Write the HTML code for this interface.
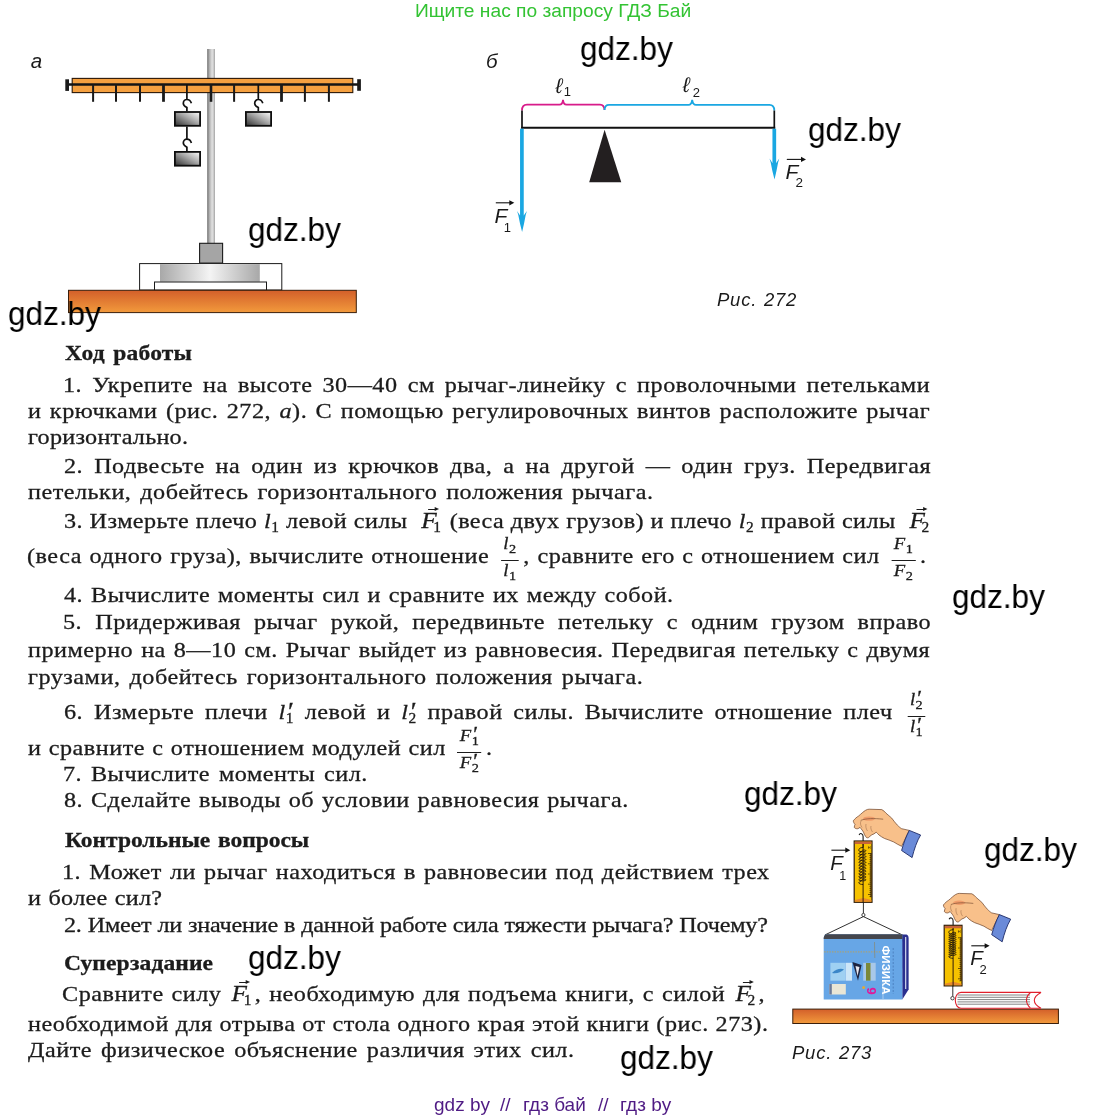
<!DOCTYPE html>
<html><head><meta charset="utf-8"><title>page</title><style>
*{margin:0;padding:0}
html,body{width:1107px;height:1120px;background:#fff;overflow:hidden}
#pg{position:relative;width:1107px;height:1120px;background:#fff}
svg.fig{position:absolute;left:0;top:0;will-change:transform}
.ln{position:absolute;will-change:transform;-webkit-text-stroke:0.3px #1c1c1c;font-family:"Liberation Serif",serif;font-size:22px;line-height:24px;height:24px;color:#1c1c1c;text-align:justify;text-align-last:justify;white-space:nowrap;transform-origin:0 0}
.ln.b{font-weight:bold}
.s{font-size:14px;position:relative;top:4px;font-style:normal}
.p{display:inline-block;width:0;line-height:10px;font-size:25px;font-style:normal;position:relative;left:2px;top:1px}
.vec{position:relative;line-height:10px;margin:0 1.5px 0 6.5px}
.vec i{font-size:23px;line-height:10px}
.vec.vb{margin:0 2.5px 0 2px}
.vec .s{margin-left:-3.5px}
.vec::before{content:"";position:absolute;left:6.5px;top:1px;width:8px;height:1.1px;background:#1c1c1c}
.vec::after{content:"";position:absolute;left:12.5px;top:-1.1px;border-left:4px solid #1c1c1c;border-top:2.6px solid transparent;border-bottom:2.6px solid transparent}
.fr{display:inline-block;vertical-align:-13.3px;text-align:center;font-size:17px;line-height:19px;margin:-16px 4px}
.fr .nu{display:block;border-bottom:1px solid #1c1c1c;padding:0 2px 5.75px 2px;text-align-last:center}
.fr .de{display:block;padding-top:0.55px;text-align-last:center}
.fr .s{font-size:13px;top:4px}
.fr .p{font-size:20px;left:1.5px;top:0px}
.wm{position:absolute;will-change:transform;transform:scaleX(0.955);transform-origin:0 0;font-family:"Liberation Sans",sans-serif;font-size:33px;line-height:40px;color:#000;white-space:nowrap}
#top{position:absolute;will-change:transform;left:415px;top:-0.5px;white-space:nowrap;font-family:"Liberation Sans",sans-serif;font-size:19.2px;line-height:22px;color:#33c333}
.ft{position:absolute;will-change:transform;top:1094px;font-family:"Liberation Sans",sans-serif;font-size:19px;line-height:22px;color:#4f1b84;white-space:pre}
svg text.it{font-family:"Liberation Sans",sans-serif;font-style:italic;fill:#1a1a1a}
svg text.sf{font-family:"Liberation Sans",sans-serif;fill:#1a1a1a}
</style></head>
<body><div id="pg">
<div id="top">Ищите нас по запросу ГДЗ Бай</div>
<svg class="fig" width="1107" height="1120" viewBox="0 0 1107 1120"><defs>
<linearGradient id="gPole" x1="0" x2="1" y1="0" y2="0">
 <stop offset="0" stop-color="#6e6e6e"/><stop offset="0.3" stop-color="#b0b0b0"/><stop offset="0.65" stop-color="#e2e2e2"/><stop offset="0.85" stop-color="#c8c8c8"/><stop offset="1" stop-color="#8e8e8e"/>
</linearGradient>
<linearGradient id="gW" x1="0" y1="1" x2="1" y2="0">
 <stop offset="0" stop-color="#2e2e2e"/><stop offset="0.55" stop-color="#a8a8a8"/><stop offset="1" stop-color="#ffffff"/>
</linearGradient>
<linearGradient id="gDisc" x1="0" x2="1" y1="0" y2="0">
 <stop offset="0" stop-color="#a8a8a8"/><stop offset="0.5" stop-color="#f4f4f4"/><stop offset="1" stop-color="#a8a8a8"/>
</linearGradient>
<linearGradient id="gTable" x1="0" x2="0" y1="0" y2="1">
 <stop offset="0" stop-color="#d35f2a"/><stop offset="1" stop-color="#f29a3c"/>
</linearGradient>
</defs><rect x="207.2" y="49" width="7.6" height="195" fill="url(#gPole)"/>
<rect x="72.2" y="78.4" width="280.6" height="14.2" fill="#f5a040" stroke="#2b1808" stroke-width="1.1"/>
<line x1="67" y1="84.5" x2="359" y2="84.5" stroke="#141414" stroke-width="2.3"/>
<rect x="65.3" y="79.3" width="3.7" height="11.6" fill="#1a1a1a"/>
<rect x="357.2" y="79.2" width="3.7" height="11.6" fill="#1a1a1a"/>
<line x1="93.1" y1="84.5" x2="93.1" y2="101.8" stroke="#1a1a1a" stroke-width="2.0"/>
<line x1="116" y1="84.5" x2="116" y2="101.8" stroke="#1a1a1a" stroke-width="2.0"/>
<line x1="140" y1="84.5" x2="140" y2="101.8" stroke="#1a1a1a" stroke-width="2.0"/>
<line x1="163.5" y1="84.5" x2="163.5" y2="101.8" stroke="#1a1a1a" stroke-width="2.8"/>
<line x1="211" y1="84.5" x2="211" y2="101.8" stroke="#1a1a1a" stroke-width="2.6"/>
<line x1="234.1" y1="84.5" x2="234.1" y2="101.8" stroke="#1a1a1a" stroke-width="2.0"/>
<line x1="281.5" y1="84.5" x2="281.5" y2="101.8" stroke="#1a1a1a" stroke-width="2.8"/>
<line x1="304.9" y1="84.5" x2="304.9" y2="101.8" stroke="#1a1a1a" stroke-width="2.0"/>
<line x1="328.9" y1="84.5" x2="328.9" y2="101.8" stroke="#1a1a1a" stroke-width="2.0"/>
<path d="M186.9,84.5 L186.9,99.5 M191.4,103.3 C190.5,100.5 188.8,99.5 186.9,99.5 C184.8,99.5 183.3,101.3 183.3,103.4 C183.3,105.5 185.0,106.5 186.9,107.5 L186.9,111.3" fill="none" stroke="#111" stroke-width="1.7"/>
<path d="M186.9,126.5 L186.9,139.2 M191.4,143.0 C190.5,140.2 188.8,139.2 186.9,139.2 C184.8,139.2 183.3,141.0 183.3,143.1 C183.3,145.2 185.0,146.2 186.9,147.2 L186.9,151.2" fill="none" stroke="#111" stroke-width="1.7"/>
<path d="M258.3,84.5 L258.3,99.5 M262.8,103.3 C261.90000000000003,100.5 260.2,99.5 258.3,99.5 C256.2,99.5 254.70000000000002,101.3 254.70000000000002,103.4 C254.70000000000002,105.5 256.40000000000003,106.5 258.3,107.5 L258.3,111.3" fill="none" stroke="#111" stroke-width="1.7"/>
<rect x="174.9" y="112.0" width="25.2" height="13.8" fill="url(#gW)" stroke="#0d0d0d" stroke-width="1.8"/>
<rect x="174.9" y="151.9" width="25.2" height="13.8" fill="url(#gW)" stroke="#0d0d0d" stroke-width="1.8"/>
<rect x="245.9" y="112.0" width="25.2" height="13.8" fill="url(#gW)" stroke="#0d0d0d" stroke-width="1.8"/>
<rect x="199.6" y="243.3" width="23" height="19.8" fill="#a5a5a5" stroke="#1a1a1a" stroke-width="1.1"/>
<rect x="139.6" y="263.6" width="142.2" height="26.4" fill="#fff" stroke="#1a1a1a" stroke-width="1"/>
<rect x="160" y="264.1" width="99.8" height="17.6" fill="url(#gDisc)"/>
<rect x="154.5" y="282" width="112" height="8" fill="#fff" stroke="#1a1a1a" stroke-width="1"/>
<rect x="68.5" y="290.3" width="287.8" height="22.3" fill="url(#gTable)" stroke="#3a1e0a" stroke-width="1"/>
<path d="M522,110.5 C522,106.5 523.5,104.6 527,104.6 L559.5,104.6 C561.8,104.6 562.7,103 563,99.8 C563.3,103 564.2,104.6 566.5,104.6 L600,104.6 C603,104.6 604.3,106.5 604.5,110" fill="none" stroke="#d81b8a" stroke-width="1.8"/>
<path d="M604.5,110 C604.7,106.5 606,104.9 609,104.9 L688.5,104.9 C690.8,104.9 691.8,103.2 692.2,99.9 C692.6,103.2 693.6,104.9 696,104.9 L769.5,104.9 C772.8,104.9 774.3,106.7 774.3,110.5" fill="none" stroke="#1aa7e2" stroke-width="1.8"/>
<line x1="521.2" y1="127.8" x2="775.2" y2="127.8" stroke="#111" stroke-width="1.9"/>
<line x1="522" y1="110.5" x2="522" y2="128.5" stroke="#111" stroke-width="1.7"/>
<line x1="774.3" y1="110.5" x2="774.3" y2="128.5" stroke="#111" stroke-width="1.7"/>
<path d="M604.6,129.8 L621.3,182.2 L589.2,182.2 Z" fill="#231f20"/>
<line x1="521.9" y1="128.7" x2="521.9" y2="217" stroke="#1aa7e2" stroke-width="3.7"/><path d="M517.1,211 L518.3,215 Q519.9,224 522.1,232 Q524.1,224 525.6999999999999,215 L526.9,211 L523.75,215.5 L520.05,215.5 Z" fill="#1aa7e2"/>
<line x1="774.3" y1="128.7" x2="774.3" y2="164.5" stroke="#1aa7e2" stroke-width="3.7"/><path d="M769.5,158.5 L770.6999999999999,162.5 Q772.3,171.5 774.5,179.5 Q776.5,171.5 778.0999999999999,162.5 L779.3,158.5 L776.15,163.0 L772.4499999999999,163.0 Z" fill="#1aa7e2"/>
<text x="486" y="67.6" class="it" font-size="20.5">б</text>
<text x="555.5" y="92.5" class="it" font-size="21">ℓ</text><text x="563.8" y="96.3" class="sf" font-size="13">1</text>
<text x="682.8" y="91.8" class="it" font-size="21">ℓ</text><text x="692.8" y="96.8" class="sf" font-size="13">2</text>
<line x1="495.8" y1="202.8" x2="511.29999999999995" y2="202.8" stroke="#111" stroke-width="1.1"/><path d="M509.29999999999995,200.20000000000002 L514.3,202.8 L509.29999999999995,205.4 Z" fill="#111"/>
<text x="494.5" y="223" class="it" font-size="21">F</text><text x="503.8" y="232.2" class="sf" font-size="13">1</text>
<line x1="786.8" y1="159.4" x2="803" y2="159.4" stroke="#111" stroke-width="1.1"/><path d="M801,156.8 L806,159.4 L801,162.0 Z" fill="#111"/>
<text x="785.5" y="178.7" class="it" font-size="21">F</text><text x="795.6" y="187" class="sf" font-size="13.5">2</text>
<text y="306" class="it" font-size="18.5" letter-spacing="0.75"><tspan x="717">Рис.</tspan><tspan x="764">272</tspan></text>
<rect x="792.8" y="1009.1" width="265.6" height="14.4" fill="url(#gTable)" stroke="#3a1e0a" stroke-width="1"/>
<g transform="translate(0,0)">
<path d="M853.3,820.8 C855,818.5 857,817 858.6,816 C861,814 863.5,811.5 865.6,810.3 C867,809.5 868,809.2 869.1,809.2 L881.8,809.6 C883.5,810.5 885,811.8 886,813.2 C888,815 890,816.5 891.7,818.1 C893.5,820.5 895.5,823.2 897.3,825.1 C899,826.8 900.5,828 901.6,828.7 L909.3,830.4 L901.6,846.3 C898.5,845 896,843.3 893.8,842 C890.5,840.5 887.5,839.5 884.6,838.5 C882.5,837.5 880.5,836.2 879,835 C878,834 877,833 876.2,832.2 C875,833.5 873,834.5 871.3,835 C870,836.3 869,837.8 867.7,837.8 C866.5,837.8 865.8,837 865.6,836.4 C864.5,835 864,833.5 863.5,832.2 C863,831.3 862.5,830.6 862.1,830 C861.3,829 860.5,828 860,827.3 C858.8,828.5 857.5,829 856.5,828.7 C855.3,828.5 854.5,828 854.3,827.3 C854.3,826.3 854.6,825.2 855,824.4 C854,823.3 853.3,822 853.3,820.8 Z" fill="#f8c08a" stroke="#6a4028" stroke-width="0.7"/>
<ellipse cx="869" cy="818.6" rx="6" ry="2.2" fill="#ee9060" opacity="0.75"/>
<path d="M860.7,820.4 C866,818.3 874,818.2 883.2,819.2" fill="none" stroke="#6a4028" stroke-width="0.6"/>
<path d="M861,821 C860,823 860.5,825.5 862.1,827.5 M866,824 C865.5,826.5 866,829 867.5,831 M871,826 C870.5,828 871,830 872.5,832" fill="none" stroke="#6a4028" stroke-width="0.5" opacity="0.7"/>
<path d="M909.3,830.4 L920.6,835 C917,841 914.2,849 912.1,857.6 L901.6,850.5 C903.5,843.5 906,836.5 909.3,830.4 Z" fill="#6a8ad8" stroke="#1d2a66" stroke-width="0.9"/>
</g>
<rect x="854.2" y="841" width="17.8" height="61.3" fill="#f6c200" stroke="#2e1c0c" stroke-width="1.2"/>
<rect x="854.8000000000001" y="841.6" width="16.6" height="2.4" fill="#c8643a"/>
<path d="M854.8000000000001,901.6999999999999 L854.8000000000001,900.0999999999999 L863.1,898.0999999999999 L871.4,900.0999999999999 L871.4,901.6999999999999 Z" fill="#e88a2a"/>
<line x1="863.1" y1="844" x2="863.1" y2="902.8" stroke="#2e1c0c" stroke-width="1"/>
<path d="M863.1,844 L863.1,847.5 C859.6,847.5 858.8000000000001,849.0 858.8000000000001,850.5 C858.8000000000001,852.1 865.9,852.1 865.9,850.8 C865.9,849.6 861.6,849.8 861.6,851.3 C861.6,852.7 858.8000000000001,852.7 858.8000000000001,853.4090909090909 C858.8000000000001,855.0090909090909 865.9,855.0090909090909 865.9,853.7090909090908 C865.9,852.5090909090909 861.6,852.7090909090908 861.6,854.2090909090908 C861.6,855.6090909090909 858.8000000000001,855.6090909090909 858.8000000000001,856.3181818181818 C858.8000000000001,857.9181818181818 865.9,857.9181818181818 865.9,856.6181818181817 C865.9,855.4181818181818 861.6,855.6181818181817 861.6,857.1181818181817 C861.6,858.5181818181818 858.8000000000001,858.5181818181818 858.8000000000001,859.2272727272726 C858.8000000000001,860.8272727272727 865.9,860.8272727272727 865.9,859.5272727272726 C865.9,858.3272727272727 861.6,858.5272727272726 861.6,860.0272727272726 C861.6,861.4272727272727 858.8000000000001,861.4272727272727 858.8000000000001,862.1363636363635 C858.8000000000001,863.7363636363635 865.9,863.7363636363635 865.9,862.4363636363635 C865.9,861.2363636363635 861.6,861.4363636363635 861.6,862.9363636363635 C861.6,864.3363636363636 858.8000000000001,864.3363636363636 858.8000000000001,865.0454545454544 C858.8000000000001,866.6454545454544 865.9,866.6454545454544 865.9,865.3454545454543 C865.9,864.1454545454544 861.6,864.3454545454543 861.6,865.8454545454543 C861.6,867.2454545454544 858.8000000000001,867.2454545454544 858.8000000000001,867.9545454545453 C858.8000000000001,869.5545454545453 865.9,869.5545454545453 865.9,868.2545454545452 C865.9,867.0545454545453 861.6,867.2545454545452 861.6,868.7545454545452 C861.6,870.1545454545453 858.8000000000001,870.1545454545453 858.8000000000001,870.8636363636361 C858.8000000000001,872.4636363636362 865.9,872.4636363636362 865.9,871.1636363636361 C865.9,869.9636363636362 861.6,870.1636363636361 861.6,871.6636363636361 C861.6,873.0636363636362 858.8000000000001,873.0636363636362 858.8000000000001,873.772727272727 C858.8000000000001,875.372727272727 865.9,875.372727272727 865.9,874.072727272727 C865.9,872.872727272727 861.6,873.072727272727 861.6,874.572727272727 C861.6,875.9727272727271 858.8000000000001,875.9727272727271 858.8000000000001,876.6818181818179 C858.8000000000001,878.2818181818179 865.9,878.2818181818179 865.9,876.9818181818179 C865.9,875.7818181818179 861.6,875.9818181818179 861.6,877.4818181818179 C861.6,878.881818181818 858.8000000000001,878.881818181818 858.8000000000001,879.5909090909088 C858.8000000000001,881.1909090909088 865.9,881.1909090909088 865.9,879.8909090909087 C865.9,878.6909090909088 861.6,878.8909090909087 861.6,880.3909090909087 C861.6,881.7909090909088 858.8000000000001,881.7909090909088 858.8000000000001,882.4999999999997 C858.8000000000001,883.9999999999997 861.1,884.4999999999997 863.1,884.4999999999997" fill="none" stroke="#1e140a" stroke-width="0.9"/>
<line x1="871.0" y1="853" x2="871.0" y2="897.3" stroke="#2e1c0c" stroke-width="1.1"/>
<line x1="868.0" y1="853.5" x2="871.0" y2="853.5" stroke="#2e1c0c" stroke-width="0.7"/>
<line x1="869.5" y1="855.5" x2="871.0" y2="855.5" stroke="#2e1c0c" stroke-width="0.7"/>
<line x1="869.5" y1="857.6" x2="871.0" y2="857.6" stroke="#2e1c0c" stroke-width="0.7"/>
<line x1="869.5" y1="859.6" x2="871.0" y2="859.6" stroke="#2e1c0c" stroke-width="0.7"/>
<line x1="869.5" y1="861.7" x2="871.0" y2="861.7" stroke="#2e1c0c" stroke-width="0.7"/>
<line x1="868.0" y1="863.8" x2="871.0" y2="863.8" stroke="#2e1c0c" stroke-width="0.7"/>
<line x1="869.5" y1="865.8" x2="871.0" y2="865.8" stroke="#2e1c0c" stroke-width="0.7"/>
<line x1="869.5" y1="867.9" x2="871.0" y2="867.9" stroke="#2e1c0c" stroke-width="0.7"/>
<line x1="869.5" y1="869.9" x2="871.0" y2="869.9" stroke="#2e1c0c" stroke-width="0.7"/>
<line x1="869.5" y1="872.0" x2="871.0" y2="872.0" stroke="#2e1c0c" stroke-width="0.7"/>
<line x1="868.0" y1="874.0" x2="871.0" y2="874.0" stroke="#2e1c0c" stroke-width="0.7"/>
<line x1="869.5" y1="876.0" x2="871.0" y2="876.0" stroke="#2e1c0c" stroke-width="0.7"/>
<line x1="869.5" y1="878.1" x2="871.0" y2="878.1" stroke="#2e1c0c" stroke-width="0.7"/>
<line x1="869.5" y1="880.1" x2="871.0" y2="880.1" stroke="#2e1c0c" stroke-width="0.7"/>
<line x1="869.5" y1="882.2" x2="871.0" y2="882.2" stroke="#2e1c0c" stroke-width="0.7"/>
<line x1="868.0" y1="884.2" x2="871.0" y2="884.2" stroke="#2e1c0c" stroke-width="0.7"/>
<line x1="869.5" y1="886.3" x2="871.0" y2="886.3" stroke="#2e1c0c" stroke-width="0.7"/>
<line x1="869.5" y1="888.4" x2="871.0" y2="888.4" stroke="#2e1c0c" stroke-width="0.7"/>
<line x1="869.5" y1="890.4" x2="871.0" y2="890.4" stroke="#2e1c0c" stroke-width="0.7"/>
<line x1="869.5" y1="892.5" x2="871.0" y2="892.5" stroke="#2e1c0c" stroke-width="0.7"/>
<line x1="868.0" y1="894.5" x2="871.0" y2="894.5" stroke="#2e1c0c" stroke-width="0.7"/>
<line x1="869.5" y1="896.5" x2="871.0" y2="896.5" stroke="#2e1c0c" stroke-width="0.7"/>
<text x="867.8" y="849" font-family="Liberation Sans" font-size="4" fill="#2e1c0c">H</text>
<path d="M863.1,841 L863.1,836.5 C863.1,833.5 860.1,832.5 859.1,835" fill="none" stroke="#1a1a1a" stroke-width="1.1"/>
<line x1="863.4" y1="902" x2="863.4" y2="913.3" stroke="#1a1a1a" stroke-width="0.9"/>
<circle cx="863.4" cy="915" r="1.6" fill="#fff" stroke="#1a1a1a" stroke-width="0.8"/>
<path d="M824.8,935 L863.4,916.6 L902.5,935" fill="none" stroke="#1a1a1a" stroke-width="0.9"/>
<path d="M902,934.6 L906.5,934.6 C907.8,935.2 908.6,936.5 908.6,938 L908.6,989.5 L902.3,999.4 Z" fill="#2a2f8e"/>
<rect x="905" y="937" width="1.3" height="52" fill="#c6cce6"/>
<path d="M823.7,938 C823.7,935.8 825,934.3 827,934.3 L902.3,934.3 L902.3,999.4 L823.7,999.4 Z" fill="#67a6e6"/>
<path d="M823.7,938.8 C823.7,935.8 825,934.3 827,934.3 L902.3,934.3 L902.3,939.1 L823.7,939.1 Z" fill="#45464d"/>
<line x1="824.2" y1="951.8" x2="880" y2="951.8" stroke="#a8a27a" stroke-width="1.3" stroke-dasharray="1.4,1.2"/>
<path d="M874.5,942 L874.8,958" fill="none" stroke="#8a8468" stroke-width="0.8" opacity="0.8"/>
<rect x="830.4" y="962.8" width="14.6" height="17.9" fill="#9fd0f2"/>
<path d="M832,973 C836,969 841,968 844,969.5 C841,972 837,974 832,973 Z" fill="#3a86c8"/>
<rect x="845.5" y="962.8" width="6.5" height="17.9" fill="#cde6f8"/>
<path d="M852.4,962 L861.6,965 L858,980.7 Z" fill="#1e2440"/>
<path d="M855.5,966 L859.5,967 L857.5,976 Z" fill="#e8e8f0"/>
<rect x="863.2" y="962.8" width="12.5" height="17.9" fill="#a8c8e8"/>
<rect x="866" y="963" width="4.5" height="17.7" fill="#7a8838"/>
<rect x="829.3" y="984" width="16.5" height="10.5" fill="#e9e6d6"/>
<rect x="829.3" y="984" width="2.5" height="10.5" fill="#6a7a9a"/>
<circle cx="863.6" cy="987.4" r="1.5" fill="#e2a83a"/>
<text transform="translate(867.2,987.3) rotate(90)" font-family="Liberation Sans" font-weight="bold" font-size="13.5" fill="#e0189a">9</text>
<text transform="translate(881.8,945.5) rotate(90)" font-family="Liberation Sans" font-weight="bold" font-size="11" fill="#ffffff" textLength="49" lengthAdjust="spacingAndGlyphs">ФИЗИКА</text>
<line x1="893.2" y1="948" x2="893.2" y2="994" stroke="#3a6aa8" stroke-width="0.6" stroke-dasharray="2,1.5"/>
<line x1="883" y1="981" x2="883" y2="999" stroke="#d8e8f8" stroke-width="0.6"/>
<g transform="translate(90.1,84.2)">
<path d="M853.3,820.8 C855,818.5 857,817 858.6,816 C861,814 863.5,811.5 865.6,810.3 C867,809.5 868,809.2 869.1,809.2 L881.8,809.6 C883.5,810.5 885,811.8 886,813.2 C888,815 890,816.5 891.7,818.1 C893.5,820.5 895.5,823.2 897.3,825.1 C899,826.8 900.5,828 901.6,828.7 L909.3,830.4 L901.6,846.3 C898.5,845 896,843.3 893.8,842 C890.5,840.5 887.5,839.5 884.6,838.5 C882.5,837.5 880.5,836.2 879,835 C878,834 877,833 876.2,832.2 C875,833.5 873,834.5 871.3,835 C870,836.3 869,837.8 867.7,837.8 C866.5,837.8 865.8,837 865.6,836.4 C864.5,835 864,833.5 863.5,832.2 C863,831.3 862.5,830.6 862.1,830 C861.3,829 860.5,828 860,827.3 C858.8,828.5 857.5,829 856.5,828.7 C855.3,828.5 854.5,828 854.3,827.3 C854.3,826.3 854.6,825.2 855,824.4 C854,823.3 853.3,822 853.3,820.8 Z" fill="#f8c08a" stroke="#6a4028" stroke-width="0.7"/>
<ellipse cx="869" cy="818.6" rx="6" ry="2.2" fill="#ee9060" opacity="0.75"/>
<path d="M860.7,820.4 C866,818.3 874,818.2 883.2,819.2" fill="none" stroke="#6a4028" stroke-width="0.6"/>
<path d="M861,821 C860,823 860.5,825.5 862.1,827.5 M866,824 C865.5,826.5 866,829 867.5,831 M871,826 C870.5,828 871,830 872.5,832" fill="none" stroke="#6a4028" stroke-width="0.5" opacity="0.7"/>
<path d="M909.3,830.4 L920.6,835 C917,841 914.2,849 912.1,857.6 L901.6,850.5 C903.5,843.5 906,836.5 909.3,830.4 Z" fill="#6a8ad8" stroke="#1d2a66" stroke-width="0.9"/>
</g>
<rect x="944.2" y="925.3" width="17.8" height="60.6" fill="#f6c200" stroke="#2e1c0c" stroke-width="1.2"/>
<rect x="944.8000000000001" y="925.9" width="16.6" height="2.4" fill="#c8643a"/>
<path d="M944.8000000000001,985.3 L944.8000000000001,983.6999999999999 L953.1,981.6999999999999 L961.4,983.6999999999999 L961.4,985.3 Z" fill="#e88a2a"/>
<line x1="953.1" y1="928.3" x2="953.1" y2="986.4" stroke="#2e1c0c" stroke-width="1"/>
<path d="M953.1,928.3 L953.1,929.8 C949.6,929.8 948.8000000000001,931.3 948.8000000000001,932.8 C948.8000000000001,934.4 955.9,934.4 955.9,933.0999999999999 C955.9,931.9 951.6,932.0999999999999 951.6,933.5999999999999 C951.6,935.0 948.8000000000001,935.0 948.8000000000001,934.9363636363636 C948.8000000000001,936.5363636363636 955.9,936.5363636363636 955.9,935.2363636363635 C955.9,934.0363636363636 951.6,934.2363636363635 951.6,935.7363636363635 C951.6,937.1363636363636 948.8000000000001,937.1363636363636 948.8000000000001,937.0727272727272 C948.8000000000001,938.6727272727272 955.9,938.6727272727272 955.9,937.3727272727272 C955.9,936.1727272727272 951.6,936.3727272727272 951.6,937.8727272727272 C951.6,939.2727272727273 948.8000000000001,939.2727272727273 948.8000000000001,939.2090909090908 C948.8000000000001,940.8090909090909 955.9,940.8090909090909 955.9,939.5090909090908 C955.9,938.3090909090909 951.6,938.5090909090908 951.6,940.0090909090908 C951.6,941.4090909090909 948.8000000000001,941.4090909090909 948.8000000000001,941.3454545454545 C948.8000000000001,942.9454545454545 955.9,942.9454545454545 955.9,941.6454545454544 C955.9,940.4454545454545 951.6,940.6454545454544 951.6,942.1454545454544 C951.6,943.5454545454545 948.8000000000001,943.5454545454545 948.8000000000001,943.4818181818181 C948.8000000000001,945.0818181818181 955.9,945.0818181818181 955.9,943.781818181818 C955.9,942.5818181818181 951.6,942.781818181818 951.6,944.281818181818 C951.6,945.6818181818181 948.8000000000001,945.6818181818181 948.8000000000001,945.6181818181817 C948.8000000000001,947.2181818181817 955.9,947.2181818181817 955.9,945.9181818181817 C955.9,944.7181818181817 951.6,944.9181818181817 951.6,946.4181818181817 C951.6,947.8181818181818 948.8000000000001,947.8181818181818 948.8000000000001,947.7545454545453 C948.8000000000001,949.3545454545454 955.9,949.3545454545454 955.9,948.0545454545453 C955.9,946.8545454545454 951.6,947.0545454545453 951.6,948.5545454545453 C951.6,949.9545454545454 948.8000000000001,949.9545454545454 948.8000000000001,949.890909090909 C948.8000000000001,951.490909090909 955.9,951.490909090909 955.9,950.1909090909089 C955.9,948.990909090909 951.6,949.1909090909089 951.6,950.6909090909089 C951.6,952.090909090909 948.8000000000001,952.090909090909 948.8000000000001,952.0272727272726 C948.8000000000001,953.6272727272726 955.9,953.6272727272726 955.9,952.3272727272725 C955.9,951.1272727272726 951.6,951.3272727272725 951.6,952.8272727272725 C951.6,954.2272727272726 948.8000000000001,954.2272727272726 948.8000000000001,954.1636363636362 C948.8000000000001,955.7636363636362 955.9,955.7636363636362 955.9,954.4636363636362 C955.9,953.2636363636362 951.6,953.4636363636362 951.6,954.9636363636362 C951.6,956.3636363636363 948.8000000000001,956.3636363636363 948.8000000000001,956.2999999999998 C948.8000000000001,957.7999999999998 951.1,958.2999999999998 953.1,958.2999999999998" fill="none" stroke="#1e140a" stroke-width="0.9"/>
<line x1="961.0" y1="937.3" x2="961.0" y2="980.9" stroke="#2e1c0c" stroke-width="1.1"/>
<line x1="958.0" y1="937.8" x2="961.0" y2="937.8" stroke="#2e1c0c" stroke-width="0.7"/>
<line x1="959.5" y1="939.8" x2="961.0" y2="939.8" stroke="#2e1c0c" stroke-width="0.7"/>
<line x1="959.5" y1="941.9" x2="961.0" y2="941.9" stroke="#2e1c0c" stroke-width="0.7"/>
<line x1="959.5" y1="943.9" x2="961.0" y2="943.9" stroke="#2e1c0c" stroke-width="0.7"/>
<line x1="959.5" y1="946.0" x2="961.0" y2="946.0" stroke="#2e1c0c" stroke-width="0.7"/>
<line x1="958.0" y1="948.0" x2="961.0" y2="948.0" stroke="#2e1c0c" stroke-width="0.7"/>
<line x1="959.5" y1="950.1" x2="961.0" y2="950.1" stroke="#2e1c0c" stroke-width="0.7"/>
<line x1="959.5" y1="952.1" x2="961.0" y2="952.1" stroke="#2e1c0c" stroke-width="0.7"/>
<line x1="959.5" y1="954.2" x2="961.0" y2="954.2" stroke="#2e1c0c" stroke-width="0.7"/>
<line x1="959.5" y1="956.2" x2="961.0" y2="956.2" stroke="#2e1c0c" stroke-width="0.7"/>
<line x1="958.0" y1="958.3" x2="961.0" y2="958.3" stroke="#2e1c0c" stroke-width="0.7"/>
<line x1="959.5" y1="960.3" x2="961.0" y2="960.3" stroke="#2e1c0c" stroke-width="0.7"/>
<line x1="959.5" y1="962.4" x2="961.0" y2="962.4" stroke="#2e1c0c" stroke-width="0.7"/>
<line x1="959.5" y1="964.4" x2="961.0" y2="964.4" stroke="#2e1c0c" stroke-width="0.7"/>
<line x1="959.5" y1="966.5" x2="961.0" y2="966.5" stroke="#2e1c0c" stroke-width="0.7"/>
<line x1="958.0" y1="968.5" x2="961.0" y2="968.5" stroke="#2e1c0c" stroke-width="0.7"/>
<line x1="959.5" y1="970.6" x2="961.0" y2="970.6" stroke="#2e1c0c" stroke-width="0.7"/>
<line x1="959.5" y1="972.6" x2="961.0" y2="972.6" stroke="#2e1c0c" stroke-width="0.7"/>
<line x1="959.5" y1="974.7" x2="961.0" y2="974.7" stroke="#2e1c0c" stroke-width="0.7"/>
<line x1="959.5" y1="976.8" x2="961.0" y2="976.8" stroke="#2e1c0c" stroke-width="0.7"/>
<line x1="958.0" y1="978.8" x2="961.0" y2="978.8" stroke="#2e1c0c" stroke-width="0.7"/>
<line x1="959.5" y1="980.8" x2="961.0" y2="980.8" stroke="#2e1c0c" stroke-width="0.7"/>
<text x="957.8" y="933.3" font-family="Liberation Sans" font-size="4" fill="#2e1c0c">H</text>
<path d="M953.1,925.3 L953.1,920.8 C953.1,917.8 950.1,916.8 949.1,919.3" fill="none" stroke="#1a1a1a" stroke-width="1.1"/>
<line x1="952.8" y1="985.9" x2="952.8" y2="996.5" stroke="#1a1a1a" stroke-width="0.9"/>
<circle cx="952.5" cy="998.2" r="1.7" fill="#fff" stroke="#1a1a1a" stroke-width="0.8"/>
<path d="M961,992.4 L1041,992.4 C1036,995 1034.3,997.5 1034.3,1000.3 C1034.3,1003 1036,1005.6 1041,1008.2 L961,1008.2 C957.5,1008.2 955.3,1004.5 955.3,1000.3 C955.3,996 957.5,992.4 961,992.4 Z" fill="#fff" stroke="#e0202c" stroke-width="1.1"/>
<line x1="957.5" y1="995.0" x2="1030" y2="995.0" stroke="#777" stroke-width="0.9"/>
<line x1="957.5" y1="997.3" x2="1030" y2="997.3" stroke="#777" stroke-width="0.9"/>
<line x1="957.5" y1="999.6" x2="1030" y2="999.6" stroke="#777" stroke-width="0.9"/>
<line x1="957.5" y1="1001.9" x2="1030" y2="1001.9" stroke="#777" stroke-width="0.9"/>
<line x1="957.5" y1="1004.2" x2="1030" y2="1004.2" stroke="#777" stroke-width="0.9"/>
<path d="M1030.3,992.8 C1027,995.5 1026.5,998 1026.5,1000.3 C1026.5,1002.8 1027,1005 1030.3,1007.8" fill="none" stroke="#e0202c" stroke-width="1.1"/>
<line x1="831.4" y1="850.2" x2="847.3" y2="850.2" stroke="#111" stroke-width="1.1"/><path d="M845.3,847.6 L850.3,850.2 L845.3,852.8000000000001 Z" fill="#111"/>
<text x="830.2" y="869.8" class="it" font-size="20.5">F</text><text x="839.2" y="879.7" class="sf" font-size="12.5">1</text>
<line x1="971.3" y1="945.8" x2="986.6" y2="945.8" stroke="#111" stroke-width="1.1"/><path d="M984.6,943.1999999999999 L989.6,945.8 L984.6,948.4 Z" fill="#111"/>
<text x="970.2" y="965.2" class="it" font-size="20.5">F</text><text x="979.4" y="973.6" class="sf" font-size="13">2</text>
<text y="1059" class="it" font-size="18.5" letter-spacing="0.75"><tspan x="792">Рис.</tspan><tspan x="839">273</tspan></text>
<text x="30.8" y="67.8" class="it" font-size="20.5">a</text></svg>
<div class="ln b" style="left:64.50px;top:340.85px;width:118.89px;letter-spacing:0.196px;transform:scaleX(1.0700)">Ход работы</div>
<div class="ln" style="left:62.50px;top:372.60px;width:788.27px;letter-spacing:0.455px;transform:scaleX(1.1000)">1. Укрепите на высоте 30—40 см рычаг-линейку с проволочными петельками</div>
<div class="ln" style="left:27.50px;top:399.10px;width:820.09px;letter-spacing:0.455px;transform:scaleX(1.1000)">и крючками (рис. 272, <i>а</i>). С помощью регулировочных винтов расположите рычаг</div>
<div class="ln" style="left:27.50px;top:425.10px;width:145.66px;letter-spacing:0.210px;transform:scaleX(1.1000)">горизонтально.</div>
<div class="ln" style="left:63.50px;top:453.85px;width:788.27px;letter-spacing:0.455px;transform:scaleX(1.1000)">2. Подвесьте на один из крючков два, а на другой — один груз. Передвигая</div>
<div class="ln" style="left:27.50px;top:479.60px;width:568.64px;letter-spacing:0.455px;transform:scaleX(1.1000)">петельки, добейтесь горизонтального положения рычага.</div>
<div class="ln" style="left:63.50px;top:509.45px;width:788.38px;letter-spacing:0.379px;transform:scaleX(1.1000)">3. Измерьте плечо <i>l</i><span class="s">1</span> левой силы <span class="vec"><i>F</i><span class="s">1</span></span> (веса двух грузов) и плечо <i>l</i><span class="s">2</span> правой силы <span class="vec"><i>F</i><span class="s">2</span></span></div>
<div class="ln" style="left:26.50px;top:544.45px;width:817.73px;letter-spacing:0.455px;transform:scaleX(1.1000)">(веса одного груза), вычислите отношение <span class="fr"><span class="nu"><i>l</i><span class="s">2</span></span><span class="de"><i>l</i><span class="s">1</span></span></span>, сравните его с отношением сил <span class="fr"><span class="nu"><i>F</i><span class="s">1</span></span><span class="de"><i>F</i><span class="s">2</span></span></span>.</div>
<div class="ln" style="left:63.50px;top:583.35px;width:554.27px;letter-spacing:0.455px;transform:scaleX(1.1000)">4. Вычислите моменты сил и сравните их между собой.</div>
<div class="ln" style="left:62.50px;top:610.35px;width:789.18px;letter-spacing:0.455px;transform:scaleX(1.1000)">5. Придерживая рычаг рукой, передвиньте петельку с одним грузом вправо</div>
<div class="ln" style="left:27.50px;top:637.85px;width:820.09px;letter-spacing:0.455px;transform:scaleX(1.1000)">примерно на 8—10 см. Рычаг выйдет из равновесия. Передвигая петельку с двумя</div>
<div class="ln" style="left:27.50px;top:664.60px;width:559.36px;letter-spacing:0.455px;transform:scaleX(1.1000)">грузами, добейтесь горизонтального положения рычага.</div>
<div class="ln" style="left:63.50px;top:699.55px;width:787.18px;letter-spacing:0.455px;transform:scaleX(1.1000)">6. Измерьте плечи <i>l</i><span class="p">&#8242;</span><span class="s">1</span> левой и <i>l</i><span class="p">&#8242;</span><span class="s">2</span> правой силы. Вычислите отношение плеч <span class="fr"><span class="nu"><i>l</i><span class="p">&#8242;</span><span class="s">2</span></span><span class="de"><i>l</i><span class="p">&#8242;</span><span class="s">1</span></span></span></div>
<div class="ln" style="left:27.50px;top:735.85px;width:422.27px;letter-spacing:0.455px;transform:scaleX(1.1000)">и сравните с отношением модулей сил <span class="fr"><span class="nu"><i>F</i><span class="p">&#8242;</span><span class="s">1</span></span><span class="de"><i>F</i><span class="p">&#8242;</span><span class="s">2</span></span></span>.</div>
<div class="ln" style="left:62.50px;top:761.60px;width:277.18px;letter-spacing:0.455px;transform:scaleX(1.1000)">7. Вычислите моменты сил.</div>
<div class="ln" style="left:63.50px;top:788.35px;width:513.36px;letter-spacing:0.455px;transform:scaleX(1.1000)">8. Сделайте выводы об условии равновесия рычага.</div>
<div class="ln b" style="left:64.50px;top:827.60px;width:228.18px;letter-spacing:-0.046px;transform:scaleX(1.0700)">Контрольные вопросы</div>
<div class="ln" style="left:61.50px;top:859.60px;width:643.36px;letter-spacing:0.455px;transform:scaleX(1.1000)">1. Может ли рычаг находиться в равновесии под действием трех</div>
<div class="ln" style="left:27.50px;top:885.85px;width:122.03px;letter-spacing:0.211px;transform:scaleX(1.1000)">и более сил?</div>
<div class="ln" style="left:63.50px;top:913.35px;width:641.31px;letter-spacing:-0.182px;transform:scaleX(1.0974)">2. Имеет ли значение в данной работе сила тяжести рычага? Почему?</div>
<div class="ln b" style="left:63.50px;top:951.35px;width:139.33px;letter-spacing:0.080px;transform:scaleX(1.0700)">Суперзадание</div>
<div class="ln" style="left:61.50px;top:981.60px;width:639.18px;letter-spacing:0.455px;transform:scaleX(1.1000)">Сравните силу <span class="vec vb"><i>F</i><span class="s">1</span></span>, необходимую для подъема книги, с силой <span class="vec vb"><i>F</i><span class="s">2</span></span>,</div>
<div class="ln" style="left:27.50px;top:1012.10px;width:673.18px;letter-spacing:0.455px;transform:scaleX(1.1000)">необходимой для отрыва от стола одного края этой книги (рис. 273).</div>
<div class="ln" style="left:27.50px;top:1038.35px;width:496.82px;letter-spacing:0.455px;transform:scaleX(1.1000)">Дайте физическое объяснение различия этих сил.</div>
<div class="wm" style="left:580.20px;top:29.40px">gdz.by</div>
<div class="wm" style="left:807.90px;top:109.80px">gdz.by</div>
<div class="wm" style="left:248.10px;top:209.60px">gdz.by</div>
<div class="wm" style="left:7.90px;top:294.00px">gdz.by</div>
<div class="wm" style="left:952.10px;top:577.40px">gdz.by</div>
<div class="wm" style="left:744.10px;top:773.70px">gdz.by</div>
<div class="wm" style="left:984.10px;top:829.60px">gdz.by</div>
<div class="wm" style="left:248.00px;top:937.60px">gdz.by</div>
<div class="wm" style="left:620.20px;top:1037.60px">gdz.by</div>
<div class="ft" style="left:433.5px">gdz by</div><div class="ft" style="left:500px">//</div><div class="ft" style="left:522.5px">гдз бай</div><div class="ft" style="left:598.2px">//</div><div class="ft" style="left:620.2px">гдз by</div>
</div></body></html>
